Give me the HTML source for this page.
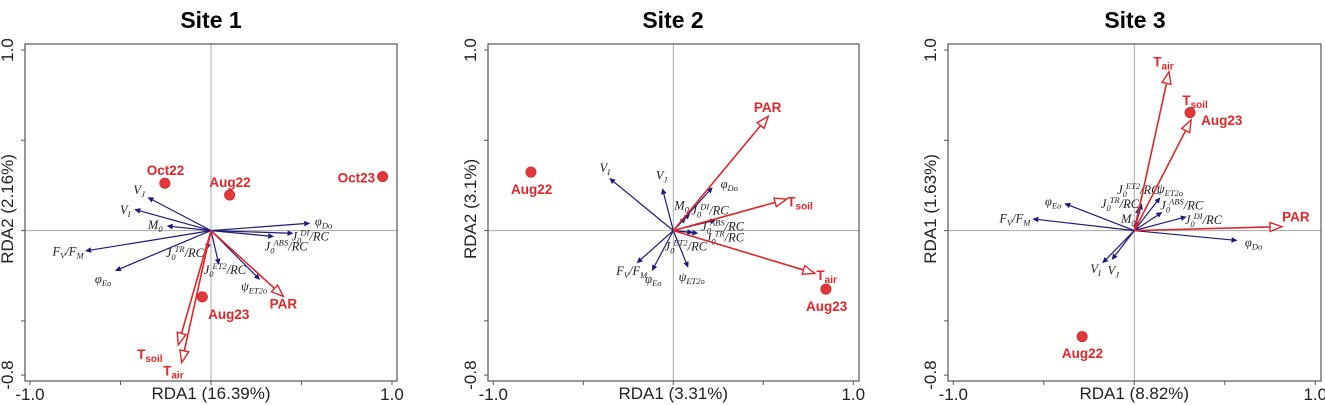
<!DOCTYPE html>
<html><head><meta charset="utf-8">
<style>
html,body{margin:0;padding:0;background:#fff;}
svg{display:block;}
.title{font-family:"Liberation Sans",sans-serif;font-weight:bold;font-size:23px;fill:#000;}
.axl{font-family:"Liberation Sans",sans-serif;font-size:17px;fill:#222;}
.tk{font-family:"Liberation Sans",sans-serif;font-size:17px;fill:#222;}
.var{font-family:"Liberation Serif",serif;font-style:italic;font-size:12.5px;fill:#222;}
.env{font-family:"Liberation Sans",sans-serif;font-weight:bold;font-size:13.5px;fill:#e0262b;}
</style></head>
<body>
<svg id="chart" width="1325" height="405" viewBox="0 0 1325 405"></svg>
<script>
// ---- data (RDA scores in axis units) ----
const panelTitles = ["Site 1", "Site 2", "Site 3"];
const xAxisTitles = ["RDA1 (16.39%)", "RDA1 (3.31%)", "RDA1 (8.82%)"];
const yAxisTitles = ["RDA2 (2.16%)", "RDA2 (3.1%)", "RDA1 (1.63%)"];
const xTickLabels = ["-1.0", "1.0"];
const yTickLabels = ["1.0", "-0.8"];
const xTickValues = [-1, -0.5, 0, 0.5, 1];
const yTickValues = [1, 0.5, 0, -0.5, -0.8];

// sites: [name, x, y, labelX, labelY]
const sites1 = [["Oct22",-0.255,0.262,-0.251,0.336],["Aug22",0.103,0.197,0.105,0.268],["Oct23",0.948,0.299,0.803,0.293],["Aug23",-0.048,-0.367,0.098,-0.461]];
const sites2 = [["Aug22",-0.791,0.324,-0.787,0.231],["Aug23",0.848,-0.324,0.852,-0.417]];
const sites3 = [["Aug22",-0.288,-0.587,-0.286,-0.679],["Aug23",0.308,0.653,0.483,0.613]];

// environmental vectors: [key, x, y, labelX, labelY]
const env1 = [["PAR",0.40,-0.365,0.40,-0.41],["Tsoil",-0.181,-0.633,-0.338,-0.688],["Tair",-0.162,-0.731,-0.208,-0.78]];
const env2 = [["PAR",0.528,0.633,0.524,0.68],["Tsoil",0.63,0.174,0.704,0.156],["Tair",0.787,-0.237,0.852,-0.252]];
const env3 = [["Tair",0.192,0.88,0.161,0.93],["Tsoil",0.314,0.613,0.336,0.718],["PAR",0.816,0.022,0.893,0.072]];

// response vectors: [key, x, y, labelX, labelY]
const resp1 = [["VJ",-0.351,0.185,-0.397,0.225],["VI",-0.424,0.118,-0.474,0.114],["M0",-0.245,0.026,-0.308,0.031],["FVFM",-0.696,-0.113,-0.79,-0.116],["phiEo",-0.531,-0.223,-0.596,-0.269],["J0TR",-0.024,-0.107,-0.144,-0.125],["J0ET2",0.044,-0.19,0.077,-0.218],["psiET2o",0.271,-0.273,0.238,-0.31],["J0ABS",0.349,-0.033,0.415,-0.089],["J0DI",0.456,-0.015,0.548,-0.033],["phiDo",0.548,0.041,0.622,0.05]];
const resp2 = [["VI",-0.356,0.291,-0.38,0.346],["VJ",-0.061,0.235,-0.065,0.304],["phiDo",0.219,0.241,0.311,0.259],["M0",0.07,0.074,0.046,0.139],["J0DI",0.093,0.096,0.204,0.111],["J0ABS",0.237,0.059,0.274,0.022],["J0TR",0.139,-0.015,0.287,-0.039],["J0ET2",0.111,-0.011,0.07,-0.089],["FVFM",-0.204,-0.181,-0.231,-0.224],["phiEo",-0.119,-0.224,-0.111,-0.269],["psiET2o",0.083,-0.206,0.102,-0.256]];
const resp3 = [["phiEo",-0.387,0.151,-0.448,0.161],["FVFM",-0.563,0.065,-0.66,0.068],["J0TR",0.026,0.129,-0.079,0.148],["J0ET2",0.041,0.151,0.022,0.225],["psiET2o",0.144,0.185,0.197,0.231],["J0ABS",0.155,0.103,0.262,0.138],["J0DI",0.29,0.077,0.382,0.059],["M0",0.017,0.05,-0.033,0.065],["phiDo",0.57,-0.055,0.659,-0.066],["VI",-0.177,-0.181,-0.214,-0.214],["VJ",-0.125,-0.162,-0.116,-0.221]];

const sitesAll=[sites1,sites2,sites3], envAll=[env1,env2,env3], respAll=[resp1,resp2,resp3];
const layouts=[
 {bx0:25,bx1:397,x0:211,xs:181,tx:211},
 {bx0:488,bx1:859,x0:673.3,xs:180,tx:673},
 {bx0:948,bx1:1321,x0:1134.3,xs:181,tx:1135}
];
const by0=44, by1=381, yZero=230.6, yS=180.6;

const NS="http://www.w3.org/2000/svg";
const svg=document.getElementById('chart');
function mk(tag,attrs,parent){const e=document.createElementNS(NS,tag);for(const k in attrs)e.setAttribute(k,attrs[k]);(parent||svg).appendChild(e);return e;}
function ts(parent,txt,opt){const t=document.createElementNS(NS,'tspan');t.textContent=txt;if(opt){for(const k in opt)t.setAttribute(k,opt[k]);}parent.appendChild(t);return t;}
function varLabel(t,key){
  const m={VJ:[["V",0],["J",1]],VI:[["V",0],["I",1]],M0:[["M",0],["0",1]],
   FVFM:[["F",0],["V",1],["/F",0],["M",1]],phiEo:[["φ",0],["Eo",1]],phiDo:[["φ",0],["Do",1]],
   psiET2o:[["ψ",0],["ET2o",1]],J0TR:[["J",0],["0",1],["TR",2],["/RC",0]],J0ET2:[["J",0],["0",1],["ET2",2],["/RC",0]],
   J0ABS:[["J",0],["0",1],["ABS",2],["/RC",0]],J0DI:[["J",0],["0",1],["DI",2],["/RC",0]]}[key];
  let prev=0;
  m.forEach(([s,k])=>{
    const o={'font-size':k?'8.5':'12.5'};
    let shift=0; if(k===1)shift=-3; if(k===2)shift=5;
    const d=shift-prev; prev=shift;
    o.dy=String(-d);
    if(k===2){o.dx='-1';}
    ts(t,s,o);
  });
}
function envLabel(t,key){
  if(key==='PAR'){ts(t,'PAR');return;}
  ts(t,'T',{'font-size':'13.5'});ts(t,key==='Tsoil'?'soil':'air',{'font-size':'10',dy:'3'});
}

layouts.forEach((L,p)=>{
  const g=mk('g',{});
  
  
  const X=v=>L.x0+v*L.xs, Y=v=>yZero-v*yS;
  const t=mk('text',{x:L.tx,y:28,'text-anchor':'middle',class:'title'},g);t.textContent=panelTitles[p];
  
  const vl=mk('line',{x1:X(0),x2:X(0),y1:by0,y2:by1,stroke:'#a8a8a8','stroke-width':1},g);
  
  const hl=mk('line',{x1:L.bx0,x2:L.bx1,y1:Y(0),y2:Y(0),stroke:'#a8a8a8','stroke-width':1},g);
  
  const box=mk('rect',{x:L.bx0,y:by0,width:L.bx1-L.bx0,height:by1-by0,fill:'none',stroke:'#555','stroke-width':1.2},g);
  
  xTickValues.forEach(v=>{const l=mk('line',{x1:X(v),x2:X(v),y1:by1,y2:by1+4,stroke:'#555'},g);
    });
  yTickValues.forEach(v=>{const l=mk('line',{x1:L.bx0-4,x2:L.bx0,y1:Y(v),y2:Y(v),stroke:'#555'},g);
    });
  [[-1,xTickLabels[0]],[1,xTickLabels[1]]].forEach(([v,s])=>{
    const e=mk('text',{x:X(v),y:400,'text-anchor':'middle',class:'tk'},g);e.textContent=s;
    });
  [[1,yTickLabels[0]],[-0.8,yTickLabels[1]]].forEach(([v,s])=>{
    const yy=Y(v), xx=L.bx0-12;
    const e=mk('text',{x:xx,y:yy,'text-anchor':'middle',class:'tk',transform:`rotate(-90 ${xx} ${yy})`},g);e.textContent=s;
    });
  const xa=mk('text',{x:X(0),y:399,'text-anchor':'middle',class:'axl'},g);xa.textContent=xAxisTitles[p];
  
  const yx=L.bx0-12, yy=Y(0.12);
  const ya=mk('text',{x:yx,y:yy,'text-anchor':'middle',class:'axl',transform:`rotate(-90 ${yx} ${yy})`},g);ya.textContent=yAxisTitles[p];
  

  respAll[p].forEach(r=>{
    const [key,vx,vy,lx,ly]=r;
    const x1=X(0),y1=Y(0),x2=X(vx),y2=Y(vy);
    const a=Math.atan2(y2-y1,x2-x1),hl=6,hw=2.8;
    const bx=x2-hl*Math.cos(a),by=y2-hl*Math.sin(a);
    const ln=mk('line',{x1,y1,x2:bx,y2:by,stroke:'#1c1c78','stroke-width':1.2},g);
    
    const hd=mk('polygon',{points:`${x2},${y2} ${bx-hw*Math.sin(a)},${by+hw*Math.cos(a)} ${bx+hw*Math.sin(a)},${by-hw*Math.cos(a)}`,fill:'#1c1c78'},g);
    
    const tx=mk('text',{x:X(lx),y:Y(ly)+4,'text-anchor':'middle',class:'var'},g);
    varLabel(tx,key);
    
  });
  envAll[p].forEach(r=>{
    const [key,vx,vy,lx,ly]=r;
    const x1=X(0),y1=Y(0),x2=X(vx),y2=Y(vy);
    const a=Math.atan2(y2-y1,x2-x1),hl=12,hw=4.5;
    const bx=x2-hl*Math.cos(a),by=y2-hl*Math.sin(a);
    const ln=mk('line',{x1,y1,x2:bx,y2:by,stroke:'#e0262b','stroke-width':1.6},g);
    
    const hd=mk('polygon',{points:`${x2},${y2} ${bx-hw*Math.sin(a)},${by+hw*Math.cos(a)} ${bx+hw*Math.sin(a)},${by-hw*Math.cos(a)}`,fill:'#fff',stroke:'#e0262b','stroke-width':1.4},g);
    
    const tx=mk('text',{x:X(lx),y:Y(ly)+4,'text-anchor':'middle',class:'env'},g);
    envLabel(tx,key);
    
  });
  sitesAll[p].forEach(s=>{
    const [name,vx,vy,lx,ly]=s;
    const c=mk('circle',{cx:X(vx),cy:Y(vy),r:5.2,fill:'#e0393b',stroke:'#c82020','stroke-width':0.6},g);
    
    const tx=mk('text',{x:X(lx),y:Y(ly)+5,'text-anchor':'middle',class:'env'},g);tx.textContent=name;
    
  });
});
</script>
</body></html>
